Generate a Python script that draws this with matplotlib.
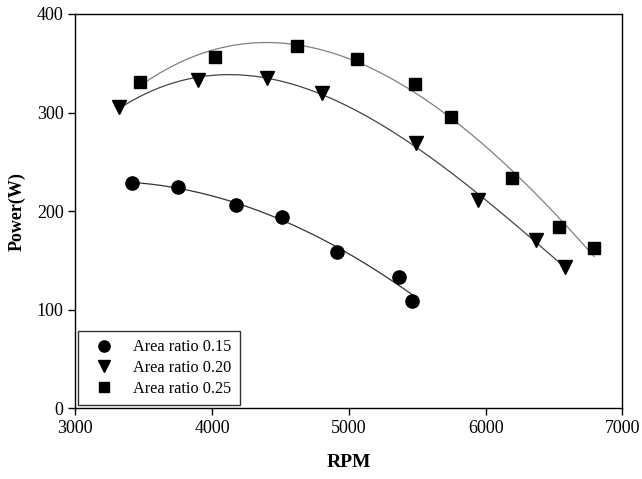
import numpy as np
import matplotlib
matplotlib.use("Agg")
import matplotlib.pyplot as plt

plt.rcParams.update({"font.family": "Liberation Serif"})

# data
rpm_15 = [3413, 3753, 4178, 4512, 4914, 5366, 5463]
pow_15 = [228.8, 224.2, 206.5, 193.8, 158.9, 133.2, 109.2]

rpm_20 = [3320, 3900, 4400, 4800, 5487, 5946, 6365, 6577]
pow_20 = [305.3, 333.0, 335.4, 320.0, 268.8, 211.3, 170.7, 143.6]

rpm_25 = [3473, 4020, 4622, 5056, 5485, 5746, 6195, 6536, 6792]
pow_25 = [330.7, 356.7, 367.5, 354.3, 329.0, 295.5, 233.3, 183.9, 162.9]

series = [
    ("Area ratio 0.15", rpm_15, pow_15, "o", 9.5, "#333333"),
    ("Area ratio 0.20", rpm_20, pow_20, "v", 10, "#444444"),
    ("Area ratio 0.25", rpm_25, pow_25, "s", 8.3, "#808080"),
]

fig = plt.figure(figsize=(6.42, 4.79), dpi=100)
ax = fig.add_axes([0.1173, 0.1476, 0.9696 - 0.1173, 0.9708 - 0.1476])

for label, x, y, mk, ms, lc in series:
    # cubic regression curve over the measured range
    coef = np.polyfit(x, y, 3)
    xs = np.linspace(min(x), max(x), 200)
    ax.plot(xs, np.polyval(coef, xs), color=lc, lw=0.9, zorder=2)
    ax.plot(x, y, ls="none", marker=mk, ms=ms, color="black",
            label=label, zorder=3)

ax.set_xlim(3000, 7000)
ax.set_ylim(0, 400)
ax.set_xticks([3000, 4000, 5000, 6000, 7000])
ax.set_yticks([0, 100, 200, 300, 400])
ax.tick_params(direction="out", length=5, width=1, labelsize=13,
               top=False, right=False)
for s in ax.spines.values():
    s.set_linewidth(1.0)

ax.set_xlabel("RPM", fontsize=14, weight="bold", labelpad=12)
ax.set_ylabel("Power(W)", fontsize=13, weight="bold", labelpad=8)

leg = ax.legend(loc="lower left", bbox_to_anchor=(0.005, 0.008),
                fontsize=11.7, frameon=True, fancybox=False,
                edgecolor="black", handletextpad=0.7, borderpad=0.5,
                labelspacing=0.3, handlelength=2.2, markerscale=0.85,
                borderaxespad=0.0)
leg.get_frame().set_linewidth(1.0)

fig.savefig("out.png", dpi=100)
